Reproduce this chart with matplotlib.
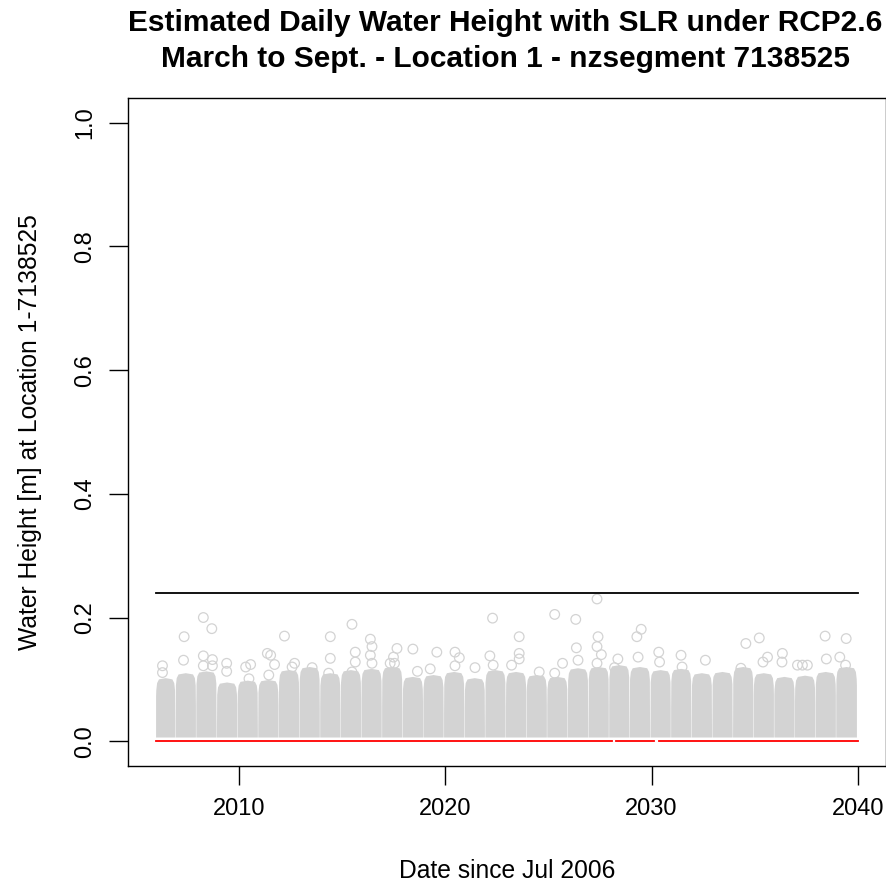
import matplotlib
matplotlib.use("Agg")
import matplotlib.pyplot as plt
import numpy as np

plt.rcParams['font.family'] = ['Liberation Sans', 'DejaVu Sans']

# one seasonal cluster of daily heights per year (2006 .. 2039)
season_year = np.arange(2006, 2040)
# upper edge of the dense band for each season [m]
season_top = [0.102, 0.110, 0.113, 0.095, 0.098, 0.099, 0.115, 0.120, 0.110, 0.115,
              0.117, 0.120, 0.104, 0.107, 0.112, 0.102, 0.115, 0.112, 0.107, 0.104,
              0.118, 0.120, 0.123, 0.120, 0.115, 0.117, 0.110, 0.112, 0.120, 0.110,
              0.104, 0.106, 0.112, 0.120]
# depth reached by the gap between consecutive seasons [m]
gap_depth = [0.031, 0.058, 0.021, 0.058, 0.021, 0.058, 0.064, 0.053, 0.047, 0.064,
             0.053, 0.047, 0.064, 0.042, 0.050, 0.021, 0.053, 0.080, 0.058, 0.042,
             0.021, 0.058, 0.021, 0.005, 0.053, 0.031, 0.021, 0.010, 0.074, 0.074,
             0.064, 0.058, 0.074]
band_floor = 0.006

# individual high days standing above the dense band
peak_date = [2006.31, 2006.31, 2007.36, 2007.33, 2008.29, 2008.70, 2008.29, 2008.73,
             2008.29, 2008.73, 2009.42, 2009.42, 2010.34, 2010.58, 2010.50, 2011.39,
             2011.46, 2011.55, 2011.74, 2012.22, 2012.71, 2012.59, 2013.56, 2014.44,
             2014.44, 2014.36, 2015.49, 2015.65, 2015.65, 2015.49, 2016.38, 2016.46,
             2016.38, 2016.46, 2017.34, 2017.67, 2017.50, 2017.55, 2018.44, 2018.66,
             2019.60, 2019.28, 2020.48, 2020.69, 2020.48, 2021.45, 2022.30, 2022.17,
             2022.33, 2023.22, 2023.59, 2023.59, 2023.59, 2024.56, 2025.31, 2025.69,
             2025.31, 2026.33, 2026.36, 2026.44, 2027.36, 2027.41, 2027.36, 2027.57,
             2027.36, 2028.37, 2028.21, 2029.50, 2029.29, 2029.35, 2030.35, 2030.39,
             2031.43, 2031.48, 2032.61, 2034.57, 2034.33, 2035.22, 2035.62, 2035.40,
             2036.34, 2036.32, 2037.07, 2037.31, 2037.55, 2038.41, 2038.47, 2039.43,
             2039.12, 2039.40]
peak_height = [0.122, 0.111, 0.169, 0.131, 0.200, 0.182, 0.138, 0.132,
               0.122, 0.122, 0.126, 0.113, 0.120, 0.124, 0.101, 0.142,
               0.107, 0.139, 0.124, 0.170, 0.126, 0.120, 0.119, 0.169,
               0.134, 0.110, 0.189, 0.144, 0.128, 0.112, 0.165, 0.153,
               0.139, 0.126, 0.126, 0.150, 0.136, 0.126, 0.149, 0.113,
               0.144, 0.117, 0.144, 0.135, 0.122, 0.119, 0.199, 0.138,
               0.123, 0.123, 0.169, 0.142, 0.133, 0.112, 0.205, 0.126,
               0.110, 0.197, 0.151, 0.131, 0.230, 0.169, 0.153, 0.140,
               0.126, 0.133, 0.119, 0.181, 0.169, 0.136, 0.144, 0.128,
               0.139, 0.120, 0.131, 0.158, 0.118, 0.167, 0.136, 0.128,
               0.142, 0.128, 0.123, 0.123, 0.123, 0.170, 0.133, 0.166,
               0.136, 0.123]

# threshold line and zero baseline (baseline has missing stretches)
threshold = 0.24
line_start, line_end = 2006.0, 2040.0
base_start = [2006.0, 2028.30, 2030.35]
base_end = [2028.10, 2030.10, 2040.0]

GREY = '#d3d3d3'

fig = plt.figure(figsize=(8.87, 8.85), dpi=100)
ax = fig.add_axes([0.1443, 0.1345, 0.8546, 0.7548])

# dense band of daily values, one block per season with rounded shoulders
for i, yr in enumerate(season_year):
    left = max(yr - 0.05, 2006.0)
    right = yr + 0.93 if i < len(season_year) - 1 else 2039.95
    top = season_top[i]
    g_left = gap_depth[i - 1] if i > 0 else top - 0.03
    g_right = gap_depth[i] if i < len(gap_depth) else top - 0.03
    mid = (left + right) / 2
    xs = [left, left, left + 0.01, left + 0.05, left + 0.14, mid,
          right - 0.14, right - 0.05, right - 0.01, right, right]
    ys = [band_floor, g_left, top - 0.02, top - 0.008, top - 0.002, top,
          top - 0.002, top - 0.008, top - 0.02, g_right, band_floor]
    ax.fill(xs, ys, color=GREY, lw=0)

ax.scatter(peak_date, peak_height, s=48, facecolors='none', edgecolors=GREY,
           linewidths=0.9, zorder=2)

ax.plot([line_start, line_end], [threshold, threshold], color='black', lw=1.3, zorder=3)
for a, b in zip(base_start, base_end):
    ax.plot([a, b], [0, 0], color='red', lw=1.3, zorder=3)

ax.set_xlim(2006 - 0.04 * 34, 2040 + 0.04 * 34)
ax.set_ylim(-0.04, 1.04)
ax.set_xticks([2010, 2020, 2030, 2040])
ax.set_yticks([0.0, 0.2, 0.4, 0.6, 0.8, 1.0])
ax.set_yticklabels(['0.0', '0.2', '0.4', '0.6', '0.8', '1.0'], rotation=90, va='center')
ax.tick_params(direction='out', length=14, width=1, labelsize=17, pad=9)
for s in ax.spines.values():
    s.set_linewidth(1)

ax.set_xlabel('Date since Jul 2006', fontsize=17.7, labelpad=28)
ax.set_ylabel('Water Height [m] at Location 1-7138525', fontsize=17.7, labelpad=23)
fig.text(0.57, 0.99, 'Estimated Daily Water Height with SLR under RCP2.6\n'
         'March to Sept. - Location 1 - nzsegment 7138525',
         ha='center', va='top', fontsize=21.5, fontweight='bold', linespacing=1.38)

fig.savefig('out.png', dpi=100)
